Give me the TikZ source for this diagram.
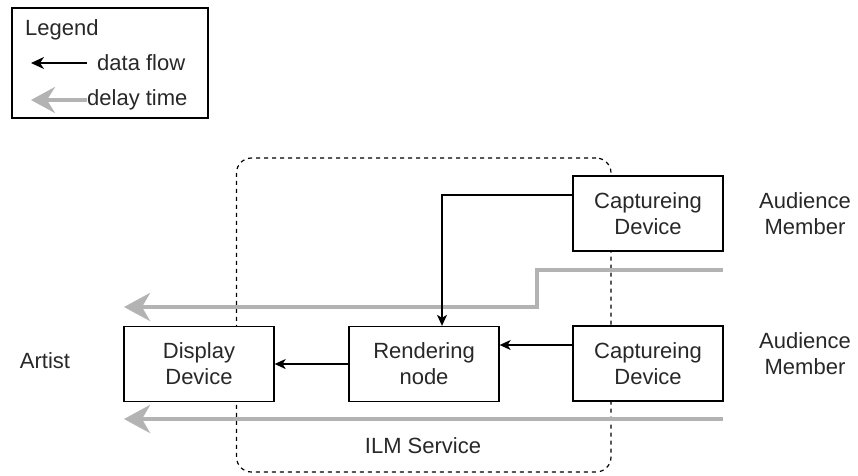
\documentclass[tikz,border=0pt]{standalone}
\usepackage{fontspec}
\setmainfont{Liberation Sans}
\usetikzlibrary{arrows.meta}
\definecolor{delaygray}{RGB}{179,179,179}
\definecolor{txt}{RGB}{40,40,40}
\begin{document}
\begin{tikzpicture}[x=1pt,y=-1pt,
  every node/.style={text=txt, font=\fontsize{22}{26}\selectfont},
  box/.style={draw=black, fill=white, line width=1.3pt, minimum width=150pt, minimum height=75pt, align=center, inner sep=0pt},
  lbl/.style={align=center, inner sep=0pt},
  flow/.style={draw=black, line width=1.3pt, -{Stealth[length=11pt,width=10pt,inset=3pt]}},
  delay/.style={draw=delaygray, line width=4.5pt, -{Stealth[length=26pt,width=28pt,inset=8pt]}},
  group/.style={draw=black, line width=1.2pt, dash pattern=on 4pt off 4pt, rounded corners=15pt},
]
\useasboundingbox (0,0) rectangle (858,475);

% legend
\node[draw=black, line width=1.3pt, minimum width=196pt, minimum height=110pt, inner sep=0pt] (legend) at (110,63) {};
\node[lbl, anchor=west] (legtitle) at (25,30) {Legend};
\node[lbl, anchor=west] (legflow) at (97,63) {data flow};
\node[lbl, anchor=west] (legdelay) at (87,100) {delay time};
\coordinate (lf1) at (87,63);
\coordinate (lf2) at (31,63);
\coordinate (ld1) at (87,100);
\coordinate (ld2) at (31,100);
\draw[flow, -{Stealth[length=13pt,width=12pt,inset=4pt]}] (lf1) -- (lf2);
\draw[delay, -{Stealth[length=24pt,width=26pt,inset=8pt]}] (ld1) -- (ld2);

% ILM service group
\node[group, minimum width=374.5pt, minimum height=314pt, inner sep=0pt] (ilm) at (423.75,315) {};
\node[lbl] (ilmlbl) at (423,446) {ILM Service};

% delay arrows
\coordinate (d1a) at (723,270);
\coordinate (d1b) at (537,270);
\coordinate (d1c) at (537,307);
\coordinate (d1d) at (124,307);
\draw[delay] (d1a) -- (d1b) -- (d1c) -- (d1d);
\coordinate (d2a) at (723,419);
\coordinate (d2b) at (124,419);
\draw[delay] (d2a) -- (d2b);

% nodes
\node[box] (cap1) at (648,213.5) {Captureing\\Device};
\node[box] (cap2) at (648,363.5) {Captureing\\Device};
\node[box] (rend) at (424,364) {Rendering\\node};
\node[box] (disp) at (199,364) {Display\\Device};

\node[lbl] (aud1) at (805,214) {Audience\\Member};
\node[lbl] (aud2) at (805,354) {Audience\\Member};
\node[lbl] (artist) at (45,361) {Artist};

% data flow
\draw[flow] ([yshift=18.5pt]cap1.west) -| ([xshift=18pt]rend.north);
\draw[flow] ([yshift=18.5pt]cap2.west) -- ([yshift=18.5pt]cap2.west -| rend.east);
\draw[flow] (rend.west) -- (disp.east);
\end{tikzpicture}
\end{document}
